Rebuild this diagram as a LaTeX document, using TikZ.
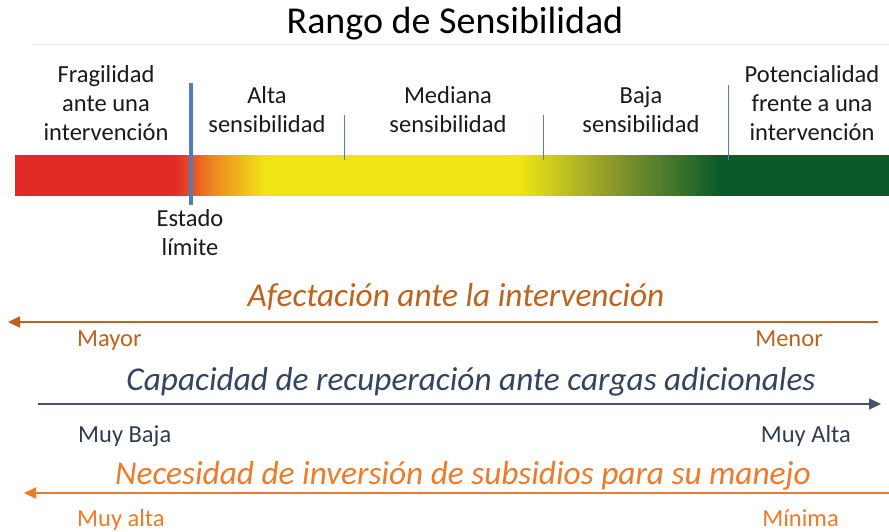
\documentclass[tikz,border=0pt]{standalone}
\usepackage{fontspec}
\setmainfont{Carlito}
\usetikzlibrary{arrows.meta}
\definecolor{cred}{HTML}{E32A27}
\definecolor{corange}{HTML}{EE8A22}
\definecolor{cyellow}{HTML}{F0E414}
\definecolor{colive}{HTML}{8E9A2C}
\definecolor{cgreen}{HTML}{0A5A2A}
\definecolor{cblue}{HTML}{4F7DBE}
\definecolor{cbrown}{HTML}{C0611C}
\definecolor{cnavy}{HTML}{324460}
\definecolor{carrowblue}{HTML}{44546A}
\definecolor{corg}{HTML}{F07A2A}
\definecolor{ctext}{HTML}{1A1A1A}
\definecolor{cgraytext}{HTML}{2F3D50}
\definecolor{crule}{HTML}{E9E5DC}
\pgfdeclarehorizontalshading{sens}{100bp}{color(0bp)=(cred); color(34.15bp)=(cred); color(36.4bp)=(corange); color(39.3bp)=(cyellow); color(53.89bp)=(cyellow); color(59.04bp)=(colive); color(65.33bp)=(cgreen); color(100bp)=(cgreen)}
\begin{document}
\begin{tikzpicture}[x=1pt,y=-1pt,
  lbl/.style={font=\fontsize{24.5}{29}\selectfont, align=center, inner sep=0pt, text=ctext},
  head/.style={font=\fontsize{33.3}{38}\selectfont\itshape, inner sep=0pt},
  small/.style={font=\fontsize{24.5}{29}\selectfont, inner sep=0pt},
  tick/.style={draw=cblue, line width=0.8pt},
  arr/.style={line width=2pt, -{Triangle[length=12pt,width=11pt]}}]
\useasboundingbox (0,0) rectangle (889,531);
% title
\node[font=\fontsize{38}{42}\selectfont, inner sep=0pt, text=black] (title) at (455,24) {Rango de Sensibilidad};
\coordinate (r1) at (33,44); \coordinate (r2) at (889,44);
\draw[crule, line width=1pt] (r1) -- (r2);
% bar
\fill[shading=sens] (15,155) rectangle (889,195);
% ticks
\coordinate (t0a) at (191,83); \coordinate (t0b) at (191,205);
\draw[cblue, line width=4pt] (t0a) -- (t0b);
\coordinate (t1a) at (344,115); \coordinate (t1b) at (344,160);
\coordinate (t2a) at (543,115); \coordinate (t2b) at (543,160);
\coordinate (t3a) at (728,85); \coordinate (t3b) at (728,160);
\draw[tick] (t1a) -- (t1b);
\draw[tick] (t2a) -- (t2b);
\draw[tick] (t3a) -- (t3b);
% labels
\node[lbl] (frag) at (106,103) {Fragilidad\\ante una\\intervención};
\node[lbl] (alta) at (267,110) {Alta\\sensibilidad};
\node[lbl] (med) at (448,110) {Mediana\\sensibilidad};
\node[lbl] (baja) at (641,110) {Baja\\sensibilidad};
\node[lbl] (pot) at (812,103) {Potencialidad\\frente a una\\intervención};
\node[lbl] (estado) at (190,233) {Estado\\límite};
% arrow 1
\node[head, text=cbrown] (h1) at (456,297) {Afectación ante la intervención};
\coordinate (a1s) at (878,322); \coordinate (a1e) at (8,322);
\draw[arr, cbrown] (a1s) -- (a1e);
\node[small, text=cbrown, anchor=base west] (mayor) at (77,346) {Mayor};
\node[small, text=cbrown, anchor=base east] (menor) at (823,346) {Menor};
% arrow 2
\node[head, text=cnavy] (h2) at (471,382) {Capacidad de recuperación ante cargas adicionales};
\coordinate (a2s) at (38,404); \coordinate (a2e) at (881,404);
\draw[arr, carrowblue] (a2s) -- (a2e);
\node[small, text=cgraytext, anchor=base west] (mbaja) at (78,442) {Muy Baja};
\node[small, text=cgraytext, anchor=base east] (malta) at (851,442) {Muy Alta};
% arrow 3
\node[head, text=corg] (h3) at (463,476) {Necesidad de inversión de subsidios para su manejo};
\coordinate (a3s) at (889,493); \coordinate (a3e) at (24,493);
\draw[arr, corg] (a3s) -- (a3e);
\node[small, text=corg, anchor=base west] (muyalta) at (77,526) {Muy alta};
\node[small, text=corg, anchor=base east] (minima) at (839,526) {Mínima};
\end{tikzpicture}
\end{document}
